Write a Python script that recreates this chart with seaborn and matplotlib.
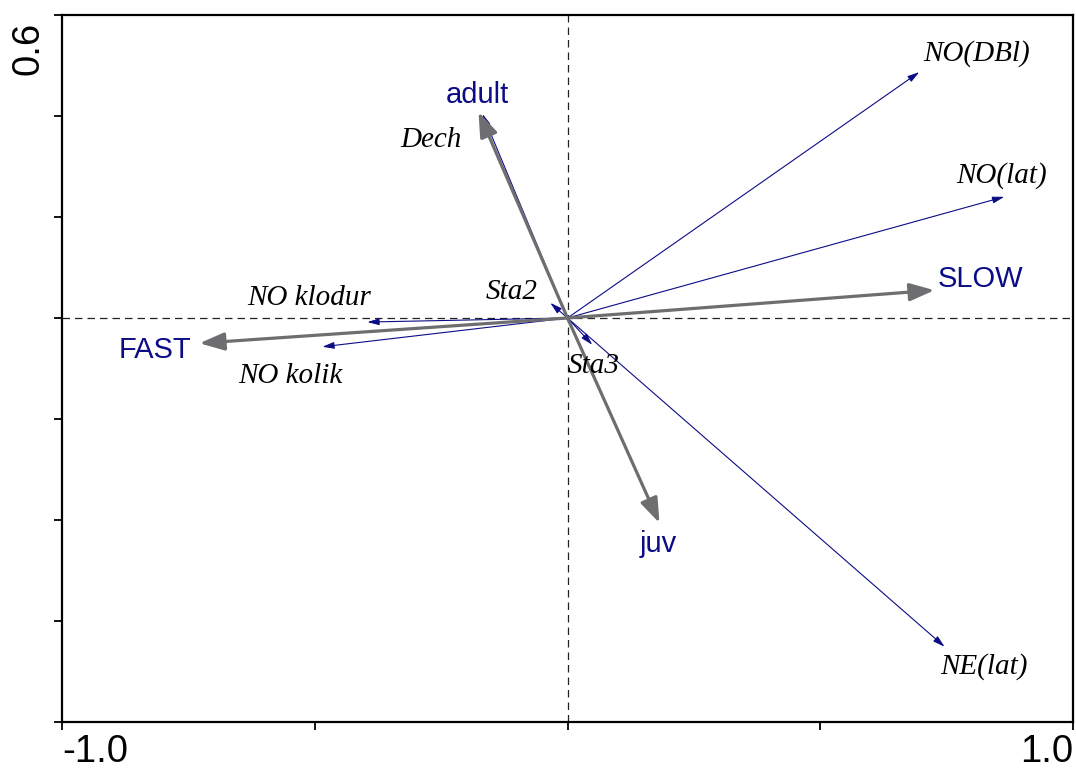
import matplotlib
matplotlib.use("Agg")
import matplotlib.pyplot as plt
import matplotlib.transforms as mtransforms
import seaborn as sns

# Environmental variables (thick grey arrows)
env_names = ["adult", "FAST", "SLOW", "juv"]
env_x = [-0.176, -0.728, 0.726, 0.182]
env_y = [0.408, -0.050, 0.055, -0.406]

# Species (thin blue arrows)
spe_names = ["NO(DBl)", "NO(lat)", "NE(lat)", "NO klodur", "NO kolik", "Dech", "Sta2", "Sta3"]
spe_x = [0.696, 0.864, 0.746, -0.396, -0.485, -0.168, -0.034, 0.049]
spe_y = [0.487, 0.240, -0.651, -0.008, -0.057, 0.404, 0.030, -0.053]

# Axis ticks
x_ticks = [-1.0, -0.5, 0.0, 0.5, 1.0]
x_tick_labels = ["-1.0", "", "", "", "1.0"]
y_ticks = [-0.8, -0.6, -0.4, -0.2, 0.0, 0.2, 0.4, 0.6]
y_tick_labels = ["", "", "", "", "", "", "", "0.6"]

# Label placement relative to arrow tips (points)
label_offset = {
    "adult": (-1, 12), "FAST": (-32, -5), "SLOW": (33, 8), "juv": (-1, -15),
    "NO(DBl)": (41, 13), "NO(lat)": (-2, 15), "NE(lat)": (28, -14),
    "NO klodur": (-42, 17), "NO kolik": (-23, -21), "Dech": (-37, -19),
    "Sta2": (-28, 8), "Sta3": (1, -15),
}

sns.set_style("ticks")
plt.rcParams["font.family"] = ["Liberation Sans", "DejaVu Sans"]

BLUE = "#0c0c86"
GREY = "#6e6e70"

fig = plt.figure(figsize=(10.76, 7.71), dpi=100)
ax = fig.add_axes([62 / 1076, 1 - 722 / 771, (1073 - 62) / 1076, (722 - 15) / 771])
ax.set_xlim(-1.0, 1.0)
ax.set_ylim(-0.8, 0.6)

ax.axhline(0, color="#222222", lw=0.9, ls=(0, (6, 4)), zorder=1)
ax.axvline(0, color="#222222", lw=0.9, ls=(0, (6, 4)), zorder=1)

for name, x, y in zip(spe_names, spe_x, spe_y):
    ax.annotate("", xy=(x, y), xytext=(0, 0),
                arrowprops=dict(arrowstyle="-|>,head_length=0.7,head_width=0.2",
                                mutation_scale=10, lw=0.8, color=BLUE,
                                shrinkA=0, shrinkB=0), zorder=2)
    ax.annotate(name, xy=(x, y), xytext=label_offset[name], textcoords="offset points",
                ha="center", va="center", fontsize=21, style="italic",
                family=["Liberation Serif", "DejaVu Serif"], color="black", zorder=4)

for name, x, y in zip(env_names, env_x, env_y):
    ax.annotate("", xy=(x, y), xytext=(0, 0),
                arrowprops=dict(arrowstyle="-|>,head_length=0.75,head_width=0.27",
                                mutation_scale=20, lw=2.3, color=GREY,
                                shrinkA=0, shrinkB=0), zorder=3)
    ax.annotate(name, xy=(x, y), xytext=label_offset[name], textcoords="offset points",
                ha="center", va="center", fontsize=21, color=BLUE, zorder=4)

ax.tick_params(axis="both", direction="out", length=6, width=1.3, color="black",
               labelcolor="black")
ax.tick_params(axis="x", pad=3)
ax.tick_params(axis="y", pad=5)

ax.set_xticks(x_ticks)
ax.set_xticklabels(x_tick_labels, fontsize=27.5)
ax.set_yticks(y_ticks)
ax.set_yticklabels(y_tick_labels, fontsize=27.5, rotation=90, va="top")
xl = ax.get_xticklabels()
xl[0].set_ha("left")
xl[-1].set_ha("right")
# nudge the rotated y label down so it sits just below its tick
shift = mtransforms.ScaledTranslation(0, -7 / 100, fig.dpi_scale_trans)
for t in ax.get_yticklabels():
    t.set_transform(t.get_transform() + shift)

for s in ax.spines.values():
    s.set_visible(True)
    s.set_linewidth(1.6)
    s.set_color("black")

fig.savefig("out.png", dpi=100)
